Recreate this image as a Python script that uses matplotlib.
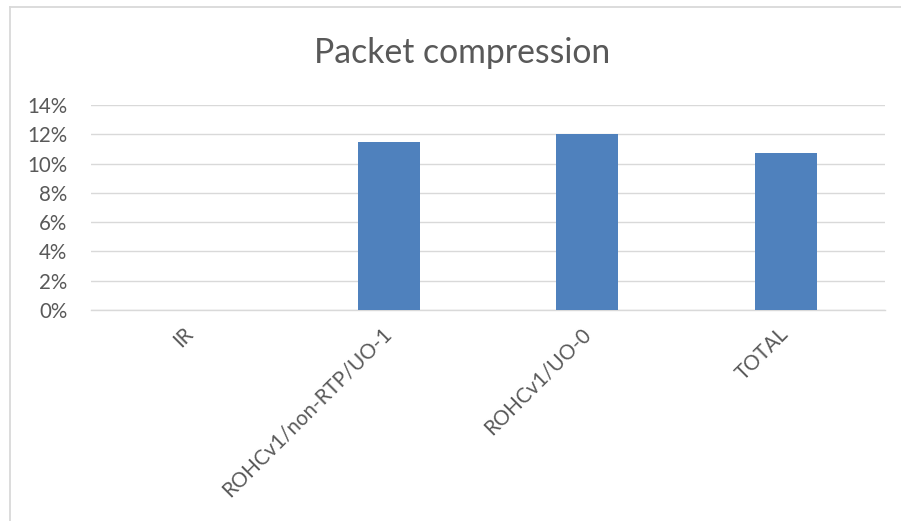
import matplotlib
matplotlib.use("Agg")
import matplotlib.pyplot as plt
from matplotlib.lines import Line2D
from matplotlib.ticker import FuncFormatter, MultipleLocator

plt.rcParams["font.family"] = ["Lato", "DejaVu Sans"]

categories = ["IR", "ROHCv1/non-RTP/UO-1", "ROHCv1/UO-0", "TOTAL"]
compression = [0.0, 0.115, 0.120, 0.107]
title = "Packet compression"

text_color = "#595959"
grid_color = "#d9d9d9"
bar_color = "#4f81bd"

W, H = 901, 521
fig = plt.figure(figsize=(W / 100, H / 100), dpi=100)
fig.patch.set_facecolor("white")

# chart frame: only the left and top edges fall inside the canvas
fig.add_artist(Line2D([9.5 / W, 9.5 / W], [0, 1 - 6.5 / H], transform=fig.transFigure,
                      color=grid_color, lw=1.3))
fig.add_artist(Line2D([9.5 / W, 1], [1 - 6.5 / H, 1 - 6.5 / H], transform=fig.transFigure,
                      color=grid_color, lw=1.3))

left, right = 91 / W, 885 / W
bottom, top = 1 - 310 / H, 1 - 105 / H
ax = fig.add_axes([left, bottom, right - left, top - bottom])

x = list(range(len(categories)))
ax.bar(x, compression, width=0.313, color=bar_color, zorder=3)

ax.set_xlim(-0.5, len(categories) - 0.5)
ax.set_ylim(0, 0.14)
ax.yaxis.set_major_locator(MultipleLocator(0.02))
ax.yaxis.set_major_formatter(FuncFormatter(lambda v, _: f"{v * 100:.0f}%"))
ax.grid(axis="y", color=grid_color, lw=1.0, zorder=0)
ax.set_axisbelow(True)

for side in ("top", "right", "left"):
    ax.spines[side].set_visible(False)
ax.spines["bottom"].set_color(grid_color)
ax.spines["bottom"].set_linewidth(1.0)

ax.tick_params(axis="y", length=0, pad=17, labelsize=14.8, labelcolor=text_color)
ax.tick_params(axis="x", length=0, pad=10, labelsize=14.8, labelcolor=text_color)
ax.set_xticks(x)
ax.set_xticklabels(categories, rotation=45, ha="right", va="center",
                   rotation_mode="anchor")
for lbl in ax.get_xticklabels():
    lbl.set_y(-0.035)

fig.text(462 / W, 1 - 63 / H, title, ha="center", va="baseline",
         fontsize=24.3, color=text_color)

fig.savefig("out.png", dpi=100, facecolor="white")
